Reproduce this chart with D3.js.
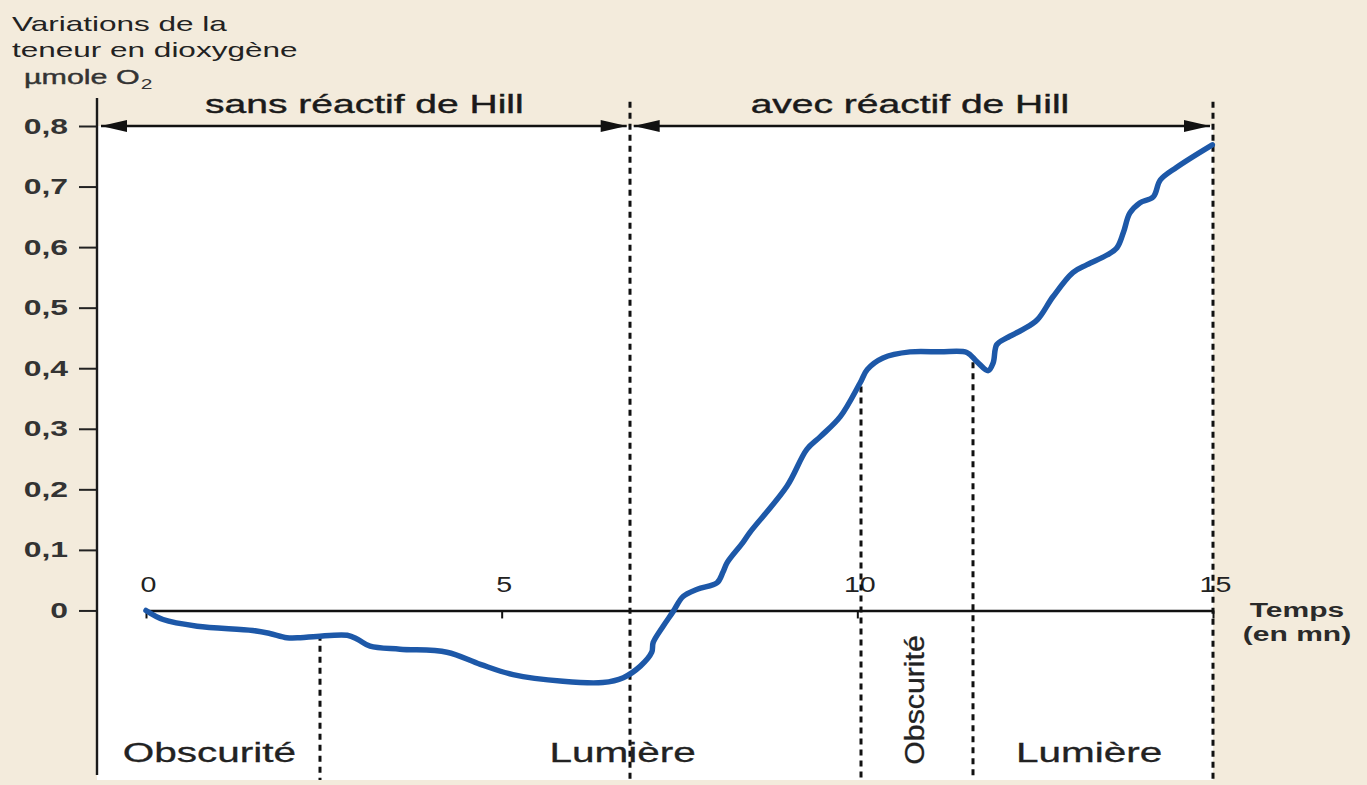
<!DOCTYPE html>
<html>
<head>
<meta charset="utf-8">
<script src="https://cdn.jsdelivr.net/npm/d3@7"></script>
<style>
  body { margin: 0; background: #f3ebdc; }
  svg { display: block; font-family: "Liberation Sans", Arial, sans-serif; }
</style>
</head>
<body>
<div id="chart"></div>
<script>
// O2 content over time (min, µmol O2)
const times = [0, 0.24, 0.72, 1.5, 1.74, 1.98, 2.17, 2.4, 2.83, 2.98, 3.15, 3.57, 4.23, 4.7, 5.16, 5.86,
  6.42, 6.71, 6.95, 7.11, 7.13, 7.27, 7.41, 7.55, 7.75, 8.03, 8.11, 8.17, 8.39, 8.49, 9.01, 9.29,
  9.48, 9.76, 10.04, 10.14, 10.36, 10.74, 11.16, 11.54, 11.68, 11.84, 11.91, 11.96, 12.1, 12.33,
  12.53, 12.75, 13.03, 13.23, 13.51, 13.65, 13.74, 13.83, 13.97, 14.16, 14.26, 14.49, 14.99];
const oxygen = [0, -0.015, -0.026, -0.033, -0.038, -0.045, -0.045, -0.043, -0.041, -0.048, -0.059, -0.064,
  -0.069, -0.089, -0.106, -0.117, -0.119, -0.111, -0.092, -0.069, -0.053, -0.026, -0.002, 0.023, 0.035,
  0.046, 0.063, 0.079, 0.112, 0.129, 0.205, 0.266, 0.287, 0.32, 0.376, 0.398, 0.417, 0.427, 0.427,
  0.426, 0.411, 0.396, 0.409, 0.439, 0.45, 0.464, 0.48, 0.518, 0.558, 0.571, 0.587, 0.599, 0.624,
  0.656, 0.673, 0.683, 0.711, 0.732, 0.769];

const yTicks = [0, 0.1, 0.2, 0.3, 0.4, 0.5, 0.6, 0.7, 0.8];
const xTicks = [0, 5, 10, 15];

// Hill reagent phases (top arrows)
const phaseLabels = ["sans réactif de Hill", "avec réactif de Hill"];
const phaseEnds = [6.8, 15];
const phaseLabelTimes = [3.07, 10.74];

// light / dark periods (bottom)
const periodLabels = ["Obscurité", "Lumière", "Obscurité", "Lumière"];
const periodLabelTimes = [0.89, 6.7, 10.81, 13.26];
const boundaryTimes = [2.45, 6.8, 10.05, 11.63, 15];
const boundaryTops = [-0.04, 0.84, 0.37, 0.41, 0.84];

const width = 1367, height = 785;
const axisX = 97;

const x = d3.scaleLinear().domain([0, 15]).range([146, 1213]);
const y = d3.scaleLinear().domain([-0.28, 0.8]).range([780, 126]);

const svg = d3.select("#chart").append("svg")
  .attr("width", width)
  .attr("height", height);

svg.append("rect").attr("width", width).attr("height", height).attr("fill", "#f3ebdc");

// white drawing area
svg.append("rect")
  .attr("x", axisX).attr("y", y(0.8))
  .attr("width", x(15) - axisX).attr("height", y(-0.28) - y(0.8))
  .attr("fill", "#fff");

function stretch(sel, k) {
  sel.each(function () {
    const w = this.getComputedTextLength();
    d3.select(this).attr("textLength", w * k).attr("lengthAdjust", "spacingAndGlyphs");
  });
}

// y axis
const yAxis = svg.append("g")
  .attr("transform", "translate(" + axisX + ",0)")
  .call(d3.axisLeft(y).tickValues(yTicks).tickSize(18).tickPadding(11)
    .tickFormat(d => d === 0 ? "0" : d3.format(".1f")(d).replace(".", ",")));
yAxis.select(".domain").remove();
yAxis.selectAll(".tick line").attr("stroke", "#222").attr("stroke-width", 2);
yAxis.selectAll(".tick text")
  .attr("font-size", 22).attr("font-weight", "bold").attr("fill", "#333")
  .attr("font-family", "Liberation Sans, Arial, sans-serif")
  .call(stretch, 1.45);

svg.append("line")
  .attr("x1", axisX).attr("x2", axisX).attr("y1", 98).attr("y2", 775)
  .attr("stroke", "#1a1a1a").attr("stroke-width", 2.4);

// x axis (labels above the line)
const xAxis = svg.append("g")
  .attr("transform", "translate(0," + y(0) + ")")
  .call(d3.axisBottom(x).tickValues(xTicks).tickSize(8).tickSizeOuter(0));
xAxis.select(".domain").attr("stroke", "#111").attr("stroke-width", 2.4);
xAxis.selectAll(".tick line").attr("stroke", "#111").attr("stroke-width", 2);
xAxis.selectAll(".tick text")
  .attr("y", -18).attr("dy", 0).attr("x", 2)
  .attr("font-size", 22).attr("fill", "#222")
  .attr("font-family", "Liberation Sans, Arial, sans-serif")
  .call(stretch, 1.3);

// dashed boundaries
svg.append("g").selectAll("line")
  .data(boundaryTimes)
  .join("line")
  .attr("x1", d => Math.round(x(d))).attr("x2", d => Math.round(x(d)))
  .attr("y1", (d, i) => y(boundaryTops[i]))
  .attr("y2", y(-0.28))
  .attr("stroke", "#111").attr("stroke-width", 3)
  .attr("stroke-dasharray", "6,5");

// phase arrows at the top
const arrowY = y(0.8);
const phaseStarts = [axisX].concat(phaseEnds.slice(0, -1).map(d => x(d)));
const arrows = svg.append("g");
phaseEnds.forEach((end, i) => {
  const xa = phaseStarts[i] + 4, xb = x(end) - 3;
  arrows.append("line")
    .attr("x1", xa).attr("x2", xb).attr("y1", arrowY).attr("y2", arrowY)
    .attr("stroke", "#111").attr("stroke-width", 2.6);
  arrows.append("path")
    .attr("d", `M${xa},${arrowY}L${xa + 26},${arrowY - 6}L${xa + 26},${arrowY + 6}Z`)
    .attr("fill", "#111");
  arrows.append("path")
    .attr("d", `M${xb},${arrowY}L${xb - 26},${arrowY - 6}L${xb - 26},${arrowY + 6}Z`)
    .attr("fill", "#111");
});

svg.append("g").selectAll("text")
  .data(phaseLabels)
  .join("text")
  .attr("x", (d, i) => x(phaseLabelTimes[i]))
  .attr("y", 113)
  .attr("text-anchor", "middle")
  .attr("font-size", 26).attr("fill", "#1a1a1a")
  .attr("stroke", "#1a1a1a").attr("stroke-width", 0.4)
  .text(d => d)
  .call(stretch, 1.5);

// oxygen curve
const line = d3.line()
  .x(d => x(d[0]))
  .y(d => y(d[1]))
  .curve(d3.curveCatmullRom.alpha(0.5));

svg.append("path")
  .datum(times.map((t, i) => [t, oxygen[i]]))
  .attr("fill", "none")
  .attr("stroke", "#1d58a8")
  .attr("stroke-width", 5.5)
  .attr("stroke-linejoin", "round")
  .attr("stroke-linecap", "round")
  .attr("d", line);

// period labels
const periods = svg.append("g");
periodLabels.forEach((lab, i) => {
  const t = periods.append("text")
    .attr("font-size", 27).attr("fill", "#222")
    .attr("stroke", "#222").attr("stroke-width", 0.3)
    .attr("text-anchor", "middle")
    .text(lab);
  if (i === 2) {
    t.attr("transform", "translate(" + (x(periodLabelTimes[i]) + 9) + ",700) rotate(-90)")
      .call(stretch, 1.12);
  } else {
    t.attr("x", x(periodLabelTimes[i])).attr("y", 762).call(stretch, 1.5);
  }
});

// axis titles
const yTitle = svg.append("g").attr("fill", "#222").attr("font-size", 21);
yTitle.append("text").attr("x", 12).attr("y", 31).text("Variations de la").call(stretch, 1.5);
yTitle.append("text").attr("x", 12).attr("y", 57).text("teneur en dioxygène").call(stretch, 1.5);
const unit = yTitle.append("text").attr("x", 24).attr("y", 84).attr("fill", "#333")
  .attr("stroke", "#333").attr("stroke-width", 0.4).attr("font-size", 21);
unit.text("µmole O").call(stretch, 1.45);
const unitEnd = 24 + +unit.attr("textLength");
yTitle.append("text").attr("x", unitEnd + 1).attr("y", 89).attr("fill", "#333")
  .attr("font-size", 15).text("2").call(stretch, 1.4);

const xTitle = svg.append("g").attr("fill", "#2a2a2a").attr("font-size", 20)
  .attr("font-weight", "bold").attr("text-anchor", "middle");
xTitle.append("text").attr("x", 1297).attr("y", 617).text("Temps").call(stretch, 1.5);
xTitle.append("text").attr("x", 1297).attr("y", 641).text("(en mn)").call(stretch, 1.5);
</script>
</body>
</html>
